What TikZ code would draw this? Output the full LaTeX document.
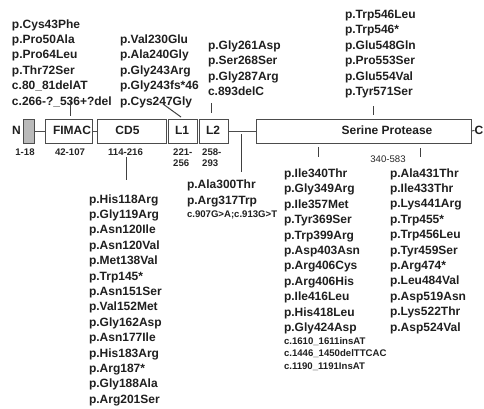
\documentclass[tikz,border=0pt]{standalone}
\usepackage{fontspec}
\setmainfont{Liberation Sans}
\newcommand\lnstrut{\rule{0pt}{9pt}}
\newcommand\smstrut{\rule{0pt}{7.2pt}}
\tikzset{
  mut/.style={anchor=north west, inner sep=0pt, outer sep=0pt, align=left,
    font=\bfseries\fontsize{12}{15.4}\selectfont, text=black!88},
  mutsmall/.style={anchor=north west, inner sep=0pt, outer sep=0pt, align=left,
    font=\bfseries\fontsize{9.6}{12.3}\selectfont, text=black!88},
  dombox/.style={draw=black!70, line width=1pt, minimum height=24pt,
    inner sep=0pt, outer sep=0pt},
  domlabel/.style={font=\bfseries\fontsize{12}{14}\selectfont, inner sep=0pt, text=black!88},
  rng/.style={font=\bfseries\fontsize{9.6}{11}\selectfont, inner sep=0pt, text=black!85},
  rngthin/.style={font=\fontsize{9.6}{11}\selectfont, inner sep=0pt, text=black!85},
  link/.style={draw=black!70, line width=1pt},
  tick/.style={draw=black!75, line width=1pt},
}
\begin{document}
\begin{tikzpicture}[x=1pt,y=-1pt]
\useasboundingbox (0,0) rectangle (484,408);

% domain boxes
\node[dombox, fill=black!27, minimum width=11pt] (sig) at (28.5,131) {};
\node[dombox, minimum width=47pt] (fimac) at (68.5,131) {};
\node[dombox, minimum width=69pt] (cd5) at (131.5,131) {};
\node[dombox, minimum width=29pt] (l1) at (182.5,131) {};
\node[dombox, minimum width=29pt] (l2) at (213.5,131) {};
\node[dombox, minimum width=215pt] (sp) at (363.5,131) {};

% domain labels
\node[domlabel] (nterm) at (16.5,130.5) {N};
\node[domlabel] (fimaclab) at (72,130.5) {FIMAC};
\node[domlabel] (cd5lab) at (127.5,130.5) {CD5};
\node[domlabel] (l1lab) at (182,130.5) {L1};
\node[domlabel] (l2lab) at (213,130.5) {L2};
\node[domlabel] (splab) at (387,130.5) {Serine Protease};
\node[domlabel, anchor=west] (cterm) at (474.5,130.5) {C};

% backbone links
\draw[link] (sig.east) -- (fimac.west);
\draw[link] (fimac.east) -- (cd5.west);
\draw[link] (l2.east) -- (sp.west);
\draw[link] (sp.east) -- (cterm.west);

% ranges
\node[rng, anchor=base] (r1) at (25,155) {1-18};
\node[rng, anchor=base] (r2) at (70,155) {42-107};
\node[rng, anchor=base] (r3) at (125.5,155) {114-216};
\node[rng, anchor=base west] (r4a) at (173,155) {221-};
\node[rng, anchor=base west] (r4b) at (173,166) {256};
\node[rng, anchor=base west] (r5a) at (202,155) {258-};
\node[rng, anchor=base west] (r5b) at (202,166) {293};
\node[rngthin, anchor=base] (r6) at (388,162) {340-583};

% mutation lists
\node[mut] (mA) at (12,19) {\lnstrut p.Cys43Phe\\p.Pro50Ala\\p.Pro64Leu\\p.Thr72Ser\\c.80\_81delAT\\c.266-?\_536+?del};
\node[mut] (mB) at (120,34.4) {\lnstrut p.Val230Glu\\p.Ala240Gly\\p.Gly243Arg\\p.Gly243fs*46\\p.Cys247Gly};
\node[mut] (mC) at (208,40.5) {\lnstrut p.Gly261Asp\\p.Ser268Ser\\p.Gly287Arg\\c.893delC};
\node[mut] (mD) at (345,9.5) {\lnstrut p.Trp546Leu\\p.Trp546*\\p.Glu548Gln\\p.Pro553Ser\\p.Glu554Val\\p.Tyr571Ser};
\node[mut] (mE) at (89,194) {\lnstrut p.His118Arg\\p.Gly119Arg\\p.Asn120Ile\\p.Asn120Val\\p.Met138Val\\p.Trp145*\\p.Asn151Ser\\p.Val152Met\\p.Gly162Asp\\p.Asn177Ile\\p.His183Arg\\p.Arg187*\\p.Gly188Ala\\p.Arg201Ser};
\node[mut] (mF) at (187,179.6) {\lnstrut p.Ala300Thr\\p.Arg317Trp};
\node[mutsmall] (mFs) at (187,210.3) {\smstrut c.907G>A;c.913G>T};
\node[mut] (mG) at (284,168.5) {\lnstrut p.Ile340Thr\\p.Gly349Arg\\p.Ile357Met\\p.Tyr369Ser\\p.Trp399Arg\\p.Asp403Asn\\p.Arg406Cys\\p.Arg406His\\p.Ile416Leu\\p.His418Leu\\p.Gly424Asp};
\node[mutsmall] (mGs) at (284,337.3) {\smstrut c.1610\_1611insAT\\c.1446\_1450delTTCAC\\c.1190\_1191InsAT};
\node[mut] (mH) at (390,168) {\lnstrut p.Ala431Thr\\p.Ile433Thr\\p.Lys441Arg\\p.Trp455*\\p.Trp456Leu\\p.Tyr459Ser\\p.Arg474*\\p.Leu484Val\\p.Asp519Asn\\p.Lys522Thr\\p.Asp524Val};

% ticks
\coordinate (tA1) at (70,101);  \coordinate (tA2) at (70,116);
\coordinate (tB1) at (163,104); \coordinate (tB2) at (181,117);
\coordinate (tC1) at (211,103); \coordinate (tC2) at (211,113);
\coordinate (tD1) at (373,106); \coordinate (tD2) at (373,115);
\coordinate (tE1) at (126,157); \coordinate (tE2) at (126,180);
\coordinate (tF1) at (241,134); \coordinate (tF2) at (241,172);
\coordinate (tG1) at (318,147); \coordinate (tG2) at (318,157);
\coordinate (tH1) at (420,148); \coordinate (tH2) at (420,157);
\draw[tick] (tA1) -- (tA2);
\draw[tick] (tB1) -- (tB2);
\draw[tick] (tC1) -- (tC2);
\draw[tick] (tD1) -- (tD2);
\draw[tick] (tE1) -- (tE2);
\draw[tick] (tF1) -- (tF2);
\draw[tick] (tG1) -- (tG2);
\draw[tick] (tH1) -- (tH2);
\end{tikzpicture}
\end{document}
